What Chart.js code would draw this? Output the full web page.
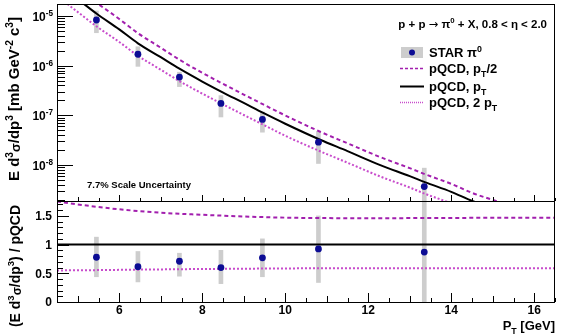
<!DOCTYPE html>
<html lang="en">
<head>
<meta charset="UTF-8">
<title>STAR pi0 cross section vs pQCD</title>
<script src="https://cdn.jsdelivr.net/npm/chart.js"></script>
<style>
  body { margin: 0; background: #fff; }
  .wrap { position: relative; width: 567px; height: 336px; }
  .wrap canvas { position: absolute; left: 0; top: 0; }
</style>
</head>
<body>
<div class="wrap">
  <canvas id="spectrum" width="567" height="336"></canvas>
  <canvas id="ratio" width="567" height="336"></canvas>
</div>
<script>
// ---- data ----
const ptBins      = [5.45, 6.45, 7.45, 8.45, 9.45, 10.8, 13.35];
const starXsec    = [8.3e-6, 1.7e-6, 5.9e-7, 1.74e-7, 8.3e-8, 2.9e-8, 3.7e-9];
const starXsecLo  = [4.6e-6, 9.7e-7, 3.8e-7, 9.3e-8, 4.6e-8, 1.08e-8, 1e-10];
const starXsecHi  = [1.26e-5, 2.4e-6, 7.4e-7, 2.5e-7, 1.17e-7, 4.8e-8, 8.7e-9];
const starRatio   = [0.78, 0.615, 0.71, 0.60, 0.77, 0.925, 0.87];
const starRatioLo = [0.44, 0.35, 0.45, 0.32, 0.44, 0.34, 0];
const starRatioHi = [1.13, 0.88, 0.85, 0.90, 1.10, 1.50, 2.0];

const pqcdPt     = [4.6, 5.0, 5.45, 6.0, 6.45, 7.0, 7.45, 8.0, 8.48, 9.0, 9.47, 10.0, 10.84, 11.5, 12.29, 13.0, 13.38, 14.0, 14.51, 15.0, 15.5];
const pqcdHalfPt = [6.9e-5, 3.7e-5, 1.86e-5, 8.7e-6, 4.5e-6, 2.3e-6, 1.32e-6, 7.2e-7, 4.4e-7, 2.63e-7, 1.66e-7, 1.0e-7, 4.7e-8, 2.75e-8, 1.45e-8, 8.7e-9, 6.5e-9, 4.2e-9, 2.75e-9, 2.0e-9, 1.45e-9];
const pqcdPtScale = [4.0e-5, 2.19e-5, 1.12e-5, 5.37e-6, 2.82e-6, 1.48e-6, 8.7e-7, 4.8e-7, 2.95e-7, 1.78e-7, 1.12e-7, 6.8e-8, 3.24e-8, 1.91e-8, 1.0e-8, 6.0e-9, 4.5e-9, 2.9e-9, 1.9e-9, 1.38e-9, 1.0e-9];
const pqcdTwoPt  = [2.19e-5, 1.2e-5, 6.2e-6, 3.0e-6, 1.58e-6, 8.3e-7, 4.9e-7, 2.75e-7, 1.7e-7, 1.02e-7, 6.5e-8, 3.9e-8, 1.9e-8, 1.12e-8, 5.9e-9, 3.55e-9, 2.63e-9, 1.7e-9, 1.12e-9, 8.1e-10, 6e-10];

const ratioPt      = [4.5, 5.0, 5.5, 6.0, 7.0, 8.0, 9.0, 10.0, 12.0, 14.0, 16.5];
const ratioHalfPt  = [1.75, 1.70, 1.655, 1.615, 1.555, 1.52, 1.49, 1.47, 1.46, 1.465, 1.47];
const ratioPtScale = [1, 1, 1, 1, 1, 1, 1, 1, 1, 1, 1];
const ratioTwoPt   = [0.55, 0.553, 0.556, 0.56, 0.568, 0.575, 0.58, 0.585, 0.59, 0.59, 0.59];

const xTickLabels     = [6, 8, 10, 12, 14, 16];
const ratioTickLabels = [0, 0.5, 1, 1.5];
const xsecTickPowers  = [-5, -6, -7, -8];

const xRange = [4.5, 16.5];

// ---- helpers ----
const FONT = '"Liberation Sans", Arial, Helvetica, sans-serif';
const BLUE = '#0c0c94', GRAY = '#cdcdcd', DASHED = '#a21fae', DOTTED = '#c84ccc';

function font(size, m) {
  return m === 'a' ? size + 'px "DejaVu Sans", sans-serif' : 'bold ' + size + 'px ' + FONT;
}

// parts: [text, mode]  mode '' normal, '^' superscript, '_' subscript, 'g' small greek, 'a' arrow glyph
function partSize(m, size) { return m === '^' || m === '_' ? size * 0.68 : m === 'g' ? size * 0.85 : size; }
function partShift(m, size) { return m === '^' ? -size * 0.42 : m === '_' ? size * 0.28 : m === 'g' ? size * 0.08 : 0; }

function drawRich(ctx, parts, x, y, size, align) {
  ctx.textAlign = 'left';
  ctx.textBaseline = 'alphabetic';
  let w = 0;
  parts.forEach(([t, m]) => { ctx.font = font(partSize(m, size), m); w += ctx.measureText(t).width; });
  let cx = align === 'center' ? x - w / 2 : align === 'right' ? x - w : x;
  parts.forEach(([t, m]) => {
    ctx.font = font(partSize(m, size), m);
    ctx.fillText(t, cx, y + partShift(m, size));
    cx += ctx.measureText(t).width;
  });
}

function drawFrame(ctx, a) {
  ctx.strokeStyle = '#000';
  ctx.lineWidth = 1;
  ctx.setLineDash([]);
  ctx.strokeRect(Math.round(a.left) + 0.5, Math.round(a.top) + 0.5,
                 Math.round(a.right - a.left) - 1, Math.round(a.bottom - a.top));
}

function drawXTicks(ctx, x, a, major, mid, minor) {
  ctx.beginPath();
  for (let v = xRange[0]; v <= xRange[1] + 1e-6; v += 0.5) {
    const px = Math.round(x.getPixelForValue(v)) + 0.5;
    const len = v % 2 === 0 ? major : (v % 1 === 0 ? mid : minor);
    ctx.moveTo(px, a.bottom);
    ctx.lineTo(px, a.bottom - len);
  }
  ctx.stroke();
}

function line(ctx, x1, y1, x2, y2, color, width, dash) {
  ctx.strokeStyle = color;
  ctx.lineWidth = width;
  ctx.setLineDash(dash);
  ctx.beginPath();
  ctx.moveTo(x1, y1);
  ctx.lineTo(x2, y2);
  ctx.stroke();
  ctx.setLineDash([]);
}

function pts(xs, ys) { return xs.map((v, i) => ({x: v, y: ys[i]})); }
function bars(xs, lo, hi) { return xs.map((v, i) => ({x: v, y: [lo[i], hi[i]]})); }

function curve(data, color, dash, order) {
  return {type: 'line', data: data, borderColor: color, borderWidth: 2, borderDash: dash,
          pointRadius: 0, fill: false, cubicInterpolationMode: 'monotone', order: order};
}

const hiddenX = {type: 'linear', min: xRange[0], max: xRange[1], display: false, offset: false};

// ---- top panel decorations ----
const spectrumDecor = {
  id: 'spectrumDecor',
  afterDatasetsDraw(chart) {
    const {ctx, chartArea: a, scales: {x, y}} = chart;
    ctx.save();
    ctx.fillStyle = '#000';
    drawFrame(ctx, a);
    drawXTicks(ctx, x, a, 6, 4, 3);

    // log y ticks
    ctx.beginPath();
    for (let d = -10; d <= -4; d++) {
      for (let m = 1; m <= 9; m++) {
        const v = m * Math.pow(10, d);
        if (v < y.min || v > y.max) continue;
        const py = Math.round(y.getPixelForValue(v)) + 0.5;
        ctx.moveTo(a.left, py);
        ctx.lineTo(a.left + (m === 1 ? 16 : 8), py);
      }
    }
    ctx.stroke();

    xsecTickPowers.forEach(p => {
      const py = y.getPixelForValue(Math.pow(10, p));
      drawRich(ctx, [['10', ''], [String(p).replace('-', '\u2011'), '^']], 53, py + 5, 12, 'right');
    });

    // axis title
    ctx.save();
    ctx.translate(19, 99);
    ctx.rotate(-Math.PI / 2);
    drawRich(ctx, [['E d', ''], ['3', '^'], ['\u03c3', 'g'], ['/dp', ''], ['3', '^'],
                   [' [mb GeV', ''], ['-2', '^'], [' c', ''], ['3', '^'], [']', '']], 0, 0, 15, 'center');
    ctx.restore();

    // process label
    drawRich(ctx, [['p + p ', ''], ['\u2192', 'a'], [' \u03c0', ''], ['0', '^'], [' + X, 0.8 < \u03b7 < 2.0', '']], 547, 28, 11.5, 'right');

    // legend
    ctx.fillStyle = GRAY;
    ctx.fillRect(401, 47, 22, 11);
    ctx.fillStyle = BLUE;
    ctx.beginPath();
    ctx.arc(412, 52.5, 3, 0, Math.PI * 2);
    ctx.fill();
    line(ctx, 400, 68.5, 424, 68.5, DASHED, 1.5, [3, 2]);
    line(ctx, 400, 86.5, 424, 86.5, '#000', 2, []);
    line(ctx, 400, 102.5, 424, 102.5, DOTTED, 1.5, [1, 1]);
    ctx.fillStyle = '#000';
    drawRich(ctx, [['STAR \u03c0', ''], ['0', '^']], 429, 57, 13, 'left');
    drawRich(ctx, [['pQCD, p', ''], ['T', '_'], ['/2', '']], 429, 73, 13, 'left');
    drawRich(ctx, [['pQCD, p', ''], ['T', '_']], 429, 91, 13, 'left');
    drawRich(ctx, [['pQCD, 2 p', ''], ['T', '_']], 429, 107, 13, 'left');

    drawRich(ctx, [['7.7% Scale Uncertainty', '']], 87, 188, 9.5, 'left');
    ctx.restore();
  }
};

// ---- bottom panel decorations ----
const ratioDecor = {
  id: 'ratioDecor',
  afterDatasetsDraw(chart) {
    const {ctx, chartArea: a, scales: {x, y}} = chart;
    ctx.save();
    ctx.fillStyle = '#000';
    drawFrame(ctx, a);
    drawXTicks(ctx, x, a, 9, 6, 4);

    ctx.beginPath();
    for (let i = 0; i <= 17; i++) {
      const py = Math.round(y.getPixelForValue(i / 10)) + 0.5;
      ctx.moveTo(a.left, py);
      ctx.lineTo(a.left + (i % 5 === 0 ? 12 : 6), py);
    }
    ctx.stroke();

    ctx.font = font(12);
    ctx.textAlign = 'right';
    ctx.textBaseline = 'middle';
    ratioTickLabels.forEach(v => ctx.fillText(String(v), 52, y.getPixelForValue(v) + 1));

    ctx.textAlign = 'center';
    ctx.textBaseline = 'alphabetic';
    xTickLabels.forEach(v => ctx.fillText(String(v), x.getPixelForValue(v), 314));

    drawRich(ctx, [['P', ''], ['T', '_'], [' [GeV]', '']], 555, 330, 13, 'right');

    ctx.save();
    ctx.translate(20, 266);
    ctx.rotate(-Math.PI / 2);
    drawRich(ctx, [['(E d', ''], ['3', '^'], ['\u03c3', 'g'], ['/dp', ''], ['3', '^'],
                   [') / pQCD', '']], 0, 0, 14, 'center');
    ctx.restore();
    ctx.restore();
  }
};

const common = {
  responsive: false,
  animation: false,
  plugins: {legend: {display: false}, tooltip: {enabled: false}, title: {display: false}}
};

new Chart(document.getElementById('spectrum'), {
  type: 'scatter',
  data: {
    datasets: [
      {type: 'scatter', data: pts(ptBins, starXsec), backgroundColor: BLUE, borderWidth: 0, pointRadius: 3.4, order: 0},
      curve(pts(pqcdPt, pqcdPtScale), '#000', [], 1),
      curve(pts(pqcdPt, pqcdHalfPt), DASHED, [4, 3], 1),
      curve(pts(pqcdPt, pqcdTwoPt), DOTTED, [2, 2], 1),
      {type: 'bar', data: bars(ptBins, starXsecLo, starXsecHi), backgroundColor: GRAY, barThickness: 4, order: 2}
    ]
  },
  options: Object.assign({}, common, {
    layout: {padding: {left: 57, right: 12, top: 3, bottom: 135}},
    scales: {
      x: hiddenX,
      y: {type: 'logarithmic', min: 1.9e-9, max: 1.74e-5, display: false}
    }
  }),
  plugins: [spectrumDecor]
});

new Chart(document.getElementById('ratio'), {
  type: 'scatter',
  data: {
    datasets: [
      {type: 'scatter', data: pts(ptBins, starRatio), backgroundColor: BLUE, borderWidth: 0, pointRadius: 3.4, order: 0},
      curve(pts(ratioPt, ratioPtScale), '#000', [], 1),
      curve(pts(ratioPt, ratioHalfPt), DASHED, [4, 3], 1),
      curve(pts(ratioPt, ratioTwoPt), DOTTED, [2, 2], 1),
      {type: 'bar', data: bars(ptBins, starRatioLo, starRatioHi), backgroundColor: GRAY, barThickness: 4, order: 2}
    ]
  },
  options: Object.assign({}, common, {
    layout: {padding: {left: 57, right: 12, top: 201, bottom: 34}},
    scales: {
      x: hiddenX,
      y: {type: 'linear', min: 0, max: 1.76, display: false}
    }
  }),
  plugins: [ratioDecor]
});
</script>
</body>
</html>
